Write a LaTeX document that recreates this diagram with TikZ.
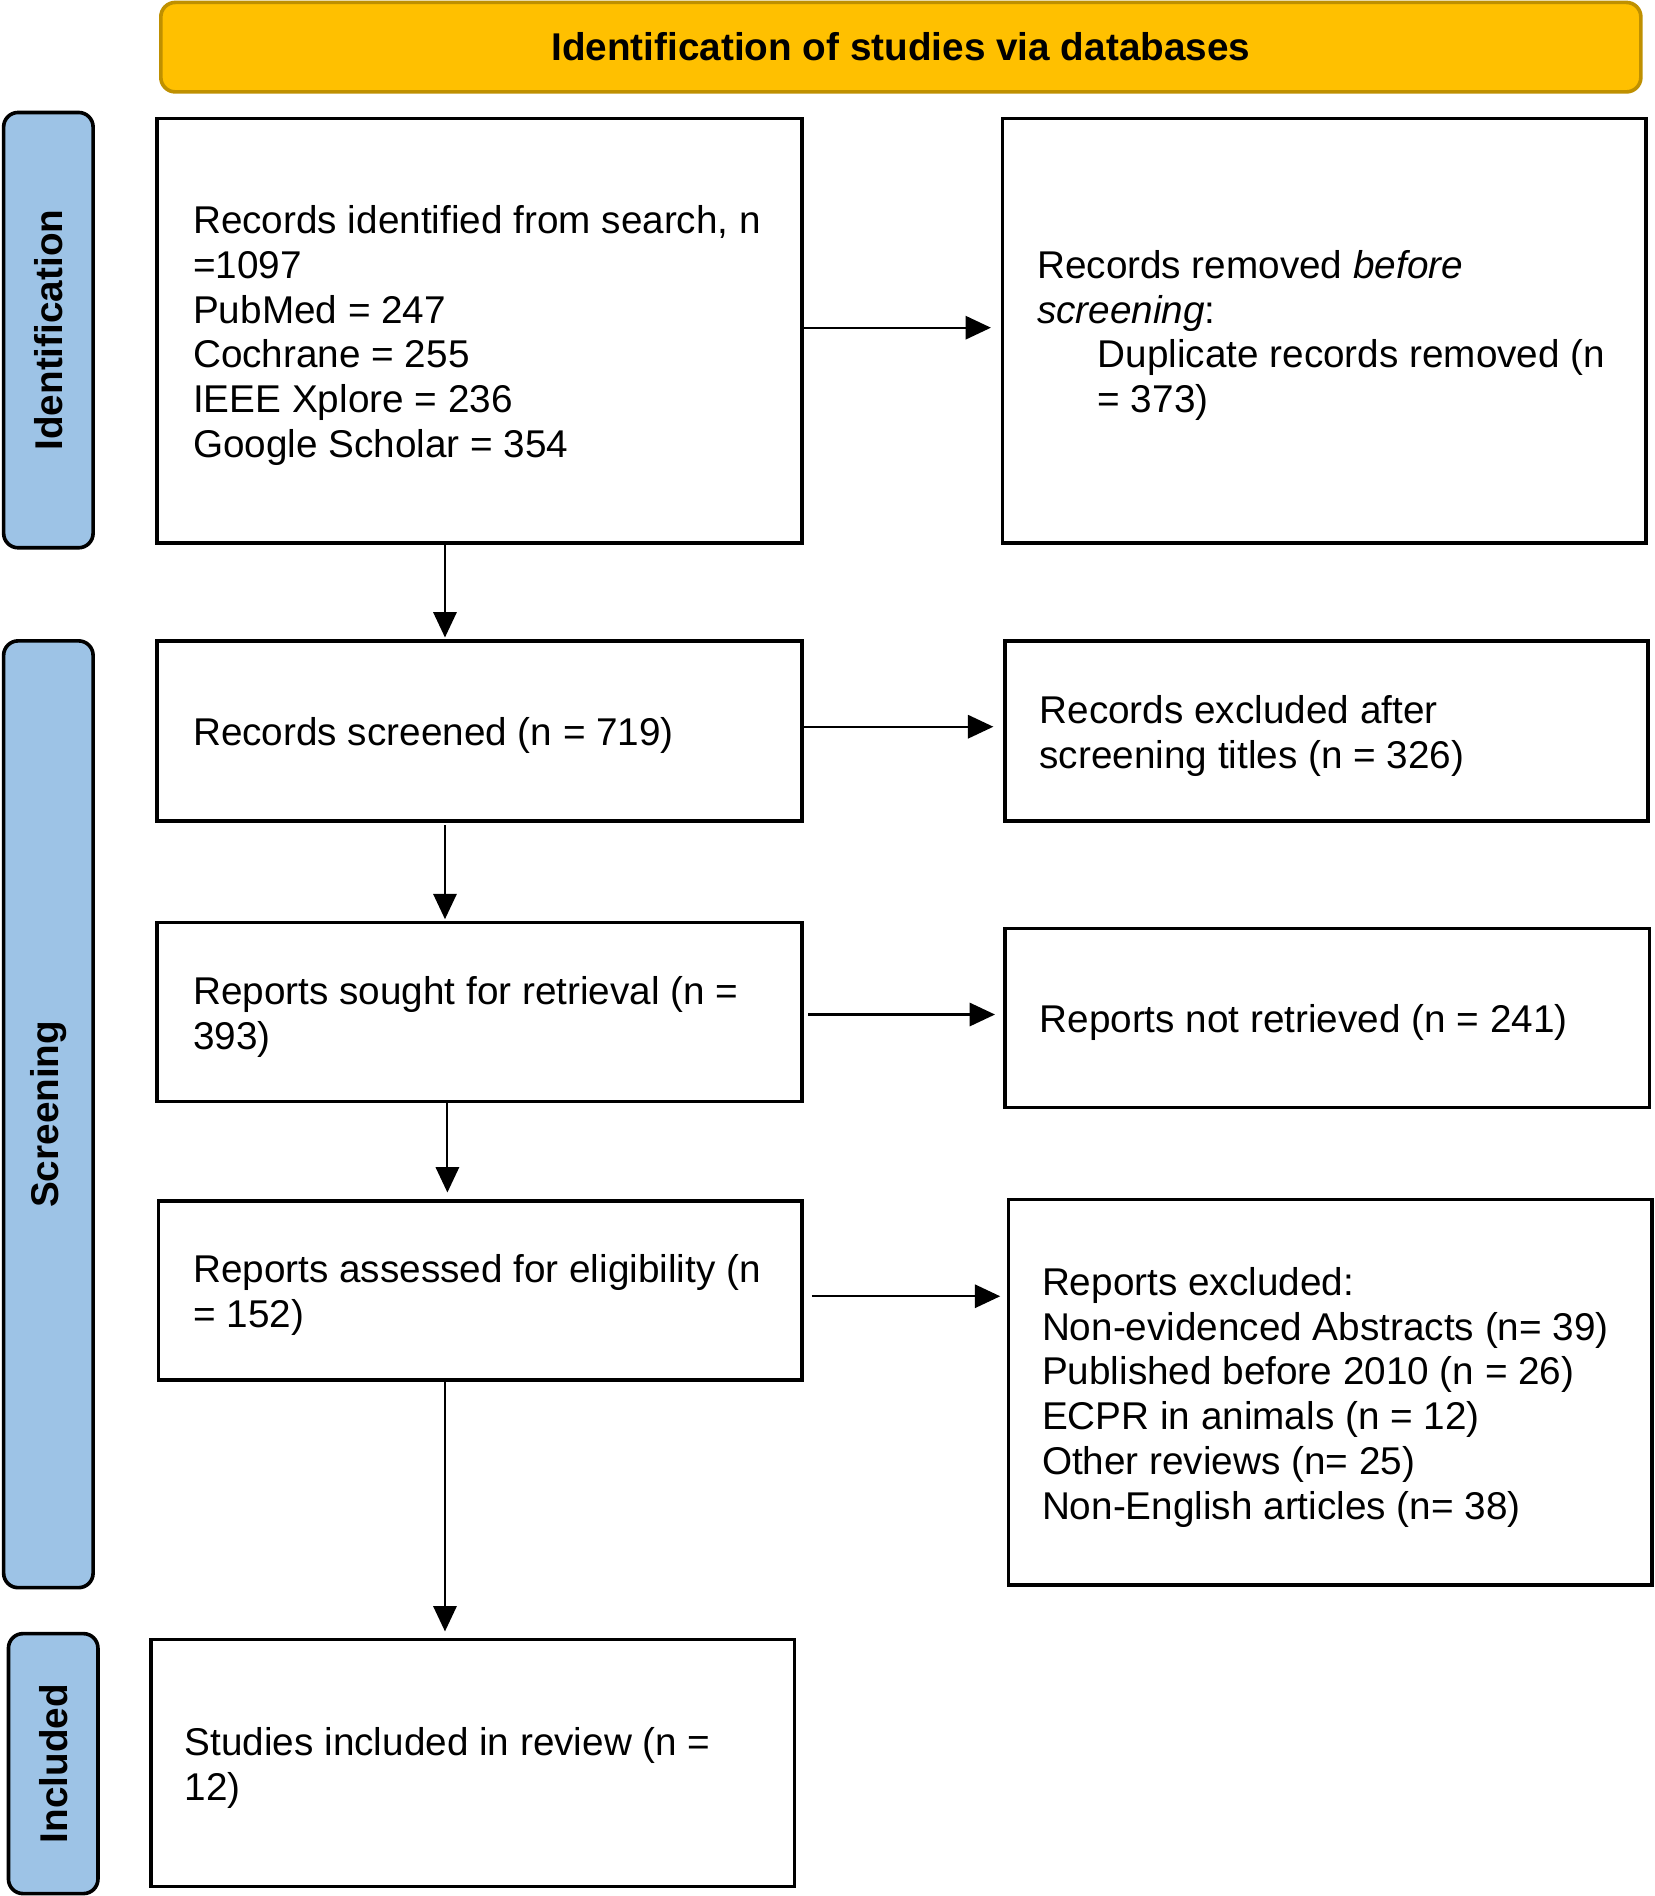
\documentclass[tikz,border=0pt]{standalone}
\usepackage{fontspec}
\setmainfont{Liberation Sans}
\usetikzlibrary{arrows.meta,calc}
\definecolor{hdrfill}{RGB}{255,192,0}
\definecolor{hdrdraw}{RGB}{191,144,0}
\definecolor{sidefill}{RGB}{157,195,230}
\begin{document}
\begin{tikzpicture}[x=0.75pt,y=-0.75pt,
  box/.style={draw=black, line width=2.25pt, fill=white, inner sep=0pt},
  txt/.style={font=\fontsize{24}{27.75}\selectfont, align=left, inner sep=0pt, anchor=west},
  side/.style={draw=black, line width=2.25pt, fill=sidefill, rounded corners=9pt, inner sep=0pt, font=\fontsize{24}{28}\selectfont\bfseries},
  hdr/.style={draw=hdrdraw, line width=2.25pt, fill=hdrfill, rounded corners=9pt, inner sep=0pt, font=\fontsize{24}{28}\selectfont\bfseries},
  arr/.style={-{Triangle[length=15.75pt,width=14.5pt]}, line width=1.3pt},
]
\useasboundingbox (0,0) rectangle (1368,1568);

% header
\node[hdr, minimum width=918pt, minimum height=55.5pt] (hd) at (745,39) {Identification of studies via databases};

% side bars
\node[side, rotate=90, minimum width=270pt, minimum height=55.5pt] (sid) at (40,273) {Identification};
\node[side, rotate=90, minimum width=587.25pt, minimum height=55.5pt] (sscr) at (40,921.5) {Screening};
\node[side, rotate=90, minimum width=161.25pt, minimum height=55.5pt] (sinc) at (44,1458.5) {Included};

% boxes
\node[box, minimum width=399.75pt, minimum height=263.25pt] (A) at (396.5,273.5) {};
\node[box, minimum width=399pt, minimum height=263.25pt] (B) at (1095,273.5) {};
\node[box, minimum width=399.75pt, minimum height=111.75pt] (C) at (396.5,604.5) {};
\node[box, minimum width=399pt, minimum height=111.75pt] (D) at (1097,604.5) {};
\node[box, minimum width=399.75pt, minimum height=111pt] (E) at (396.5,837) {};
\node[box, minimum width=399.75pt, minimum height=111pt] (F) at (1097.5,842) {};
\node[box, minimum width=399pt, minimum height=111pt] (G) at (397,1067) {};
\node[box, minimum width=399pt, minimum height=239.25pt] (H) at (1100,1151.5) {};
\node[box, minimum width=399pt, minimum height=153pt] (I) at (391,1458) {};

% texts
\node[txt] (At) at ($(A.west)+(31,4)$) {Records identified from search, n\\=1097\\PubMed = 247\\Cochrane = 255\\IEEE Xplore = 236\\Google Scholar = 354};
\node[txt] (Bt) at ($(B.west)+(30,4)$) {Records removed \textit{before}\\\textit{screening}:\\\hspace*{37.5pt}Duplicate records removed (n\\\hspace*{37.5pt}= 373)};
\node[txt] (Ct) at ($(C.west)+(31,4)$) {Records screened (n = 719)};
\node[txt] (Dt) at ($(D.west)+(30,4)$) {Records excluded after\\screening titles (n = 326)};
\node[txt] (Et) at ($(E.west)+(31,4)$) {Reports sought for retrieval (n =\\393)};
\node[txt] (Ft) at ($(F.west)+(30,4)$) {Reports not retrieved (n = 241)};
\node[txt] (Gt) at ($(G.west)+(30,4)$) {Reports assessed for eligibility (n\\= 152)};
\node[txt] (Ht) at ($(H.west)+(29,4)$) {Reports excluded:\\Non-evidenced Abstracts (n= 39)\\Published before 2010 (n = 26)\\ECPR in animals (n = 12)\\Other reviews (n= 25)\\Non-English articles (n= 38)};
\node[txt] (It) at ($(I.west)+(29,4)$) {Studies included in review (n =\\12)};

% connector start points
\coordinate (ab) at ($(A.east)+(0,-2.5)$);
\coordinate (cd) at ($(C.east)+(0,-3.5)$);
\coordinate (ef) at ($(E.east)+(4,2)$);
\coordinate (gh) at ($(G.east)+(7,5)$);
\coordinate (ac) at ($(A.south)+(-28.5,0)$);
\coordinate (ce) at ($(C.south)+(-28.5,2)$);
\coordinate (eg) at ($(E.south)+(-26.5,0)$);
\coordinate (gi) at ($(G.south)+(-29,0)$);

% horizontal arrows
\draw[arr, shorten >=6pt] (ab) -- (ab -| B.west);
\draw[arr, shorten >=6pt] (cd) -- (cd -| D.west);
\draw[arr, shorten >=5pt] (ef) -- (ef -| F.west);
\draw[arr, shorten >=4pt] (gh) -- (gh -| H.west);

% vertical arrows
\draw[arr, shorten >=1pt] (ac) -- (ac |- C.north);
\draw[arr, shorten >=1pt] (ce) -- (ce |- E.north);
\draw[arr, shorten >=4pt] (eg) -- (eg |- G.north);
\draw[arr, shorten >=4pt] (gi) -- (gi |- I.north);
\end{tikzpicture}
\end{document}
